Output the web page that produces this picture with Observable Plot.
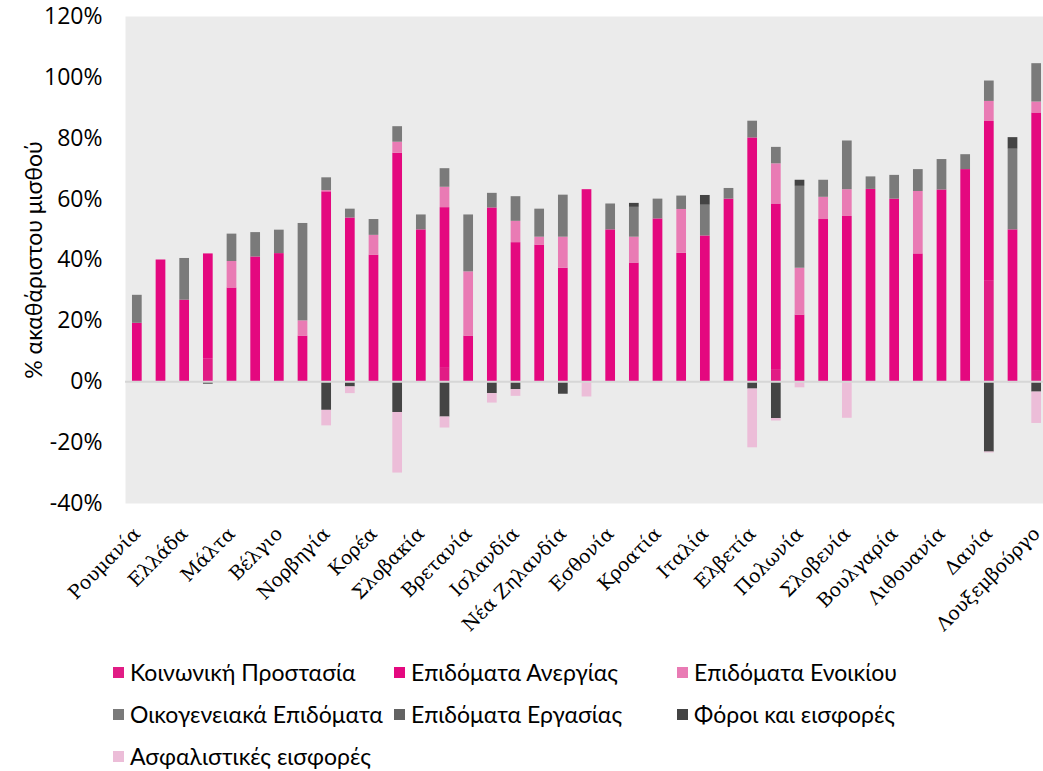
<!DOCTYPE html>
<html><head><meta charset="utf-8">
<script src="https://cdn.jsdelivr.net/npm/d3@7"></script>
<script src="https://cdn.jsdelivr.net/npm/@observablehq/plot@0.6"></script>
<style>
html,body{margin:0;padding:0;background:#fff;overflow:hidden;}
#wrap{position:relative;width:1043px;height:771px;overflow:hidden;}
#chart{position:absolute;left:0;top:0;width:1048px;}
.item{position:absolute;display:flex;align-items:center;height:28px;font-family:Lato,"Noto Sans",sans-serif;font-size:23px;color:#000;white-space:nowrap;}
.sw{width:11px;height:11px;margin-right:6px;flex:none;}
</style></head><body>
<div id="wrap"><div id="chart"></div><div id="legend"></div></div>
<script>
const countries = ["Ρουμανία","Λετονία","Ελλάδα","Κύπρος","Μάλτα","Ουγγαρία","Βέλγιο","Τσεχία","Νορβηγία","Ιαπωνία","Κορέα","Ιρλανδία","Σλοβακία","Ολλανδία","Βρετανία","Σουηδία","Ισλανδία","Αυστραλία","Νέα Ζηλανδία","Ισραήλ","Εσθονία","Φινλανδία","Κροατία","Καναδάς","Ιταλία","Τουρκία","Ελβετία","Γερμανία","Πολωνία","Ισπανία","Σλοβενία","Πορτογαλία","Βουλγαρία","Γαλλία","Λιθουανία","ΗΠΑ","Δανία","Αυστρία","Λουξεμβούργο"];
const tickLabels = ["Ρουμανία","Ελλάδα","Μάλτα","Βέλγιο","Νορβηγία","Κορέα","Σλοβακία","Βρετανία","Ισλανδία","Νέα Ζηλανδία","Εσθονία","Κροατία","Ιταλία","Ελβετία","Πολωνία","Σλοβενία","Βουλγαρία","Λιθουανία","Δανία","Λουξεμβούργο"];
const yTicks = [-40,-20,0,20,40,60,80,100,120];
const seriesNames = ["Κοινωνική Προστασία","Επιδόματα Ανεργίας","Επιδόματα Ενοικίου","Οικογενειακά Επιδόματα","Επιδόματα Εργασίας","Φόροι και εισφορές","Ασφαλιστικές εισφορές"];
const seriesColors = ["#e11c85","#e4087f","#e97bb4","#7a7a7a","#636363","#444444","#ecbdd8"];

const koinonikiProstasia = [0,0,0,7.4,0,0,0,0,0,0,0,0,0,4.4,0,0,0,0,0,0,0,0,0,0,0,0,0,4.0,0,0,0,0,0,0,0,0,33.0,0,3.4];
const anergias = [19.2,40.0,26.8,34.6,30.8,41.0,42.1,15.0,62.4,53.8,41.6,75.1,49.9,52.8,15.0,57.1,45.7,44.9,37.3,63.1,49.9,39.0,53.5,42.2,47.9,60.0,80.1,54.4,21.9,53.3,54.3,63.2,60.0,42.0,63.0,69.7,52.5,49.9,84.9];
const enoikiou = [0,0,0,0,8.7,0,0,5.0,0.4,0,6.5,3.6,0,6.7,21.1,0,7.0,2.6,10.2,0,0,8.5,0,14.4,0,0,0,13.2,15.4,7.3,8.8,0,0,20.5,0,0,6.6,0,3.6];
const oikogeneiaka = [9.2,0,13.7,0,9.0,8.0,7.7,32.0,4.2,2.9,5.2,5.1,4.9,6.1,18.7,4.8,8.1,9.2,13.8,0,8.5,9.8,6.5,4.4,10.1,3.5,5.5,5.4,26.9,5.6,16.0,4.1,7.8,7.2,10.0,4.9,6.7,26.5,12.6];
const ergasias = [0,0,0,0,0,0,0,0,0,0,0,0,0,0,0,0,0,0,0,0,0,0,0,0,0,0,0,0,0,0,0,0,0,0,0,0,0,0,0];
const foroi = [0,0,0,-0.8,0,0,0,0,-9.4,-1.7,0,-10.1,0,-11.6,0,-3.9,-2.6,0,-4.1,0,0,1.3,0,0,3.2,0,-2.4,-12.1,2.0,0,0,0,0,0,0,0,-23.1,3.8,-3.4];
const asfalistikes = [0,-0.4,0,0,0,0,0,0,-5.1,-2.2,0,-19.9,0,-3.6,0,-3.1,-2.2,0,0,-5.0,0,0,0,0,0,0,-19.3,-0.8,-2.0,0,-12.0,0,0,0,0,0,-0.3,-0.5,-10.3];

const seriesValues = [koinonikiProstasia, anergias, enoikiou, oikogeneiaka, ergasias, foroi, asfalistikes];
const data = [];
seriesNames.forEach((s, i) => countries.forEach((c, j) => data.push({country: c, series: s, value: seriesValues[i][j]})));

const chart = Plot.plot({
  width: 1048, height: 640,
  marginLeft: 125, marginRight: 0, marginTop: 16, marginBottom: 137,
  style: {fontFamily: "Lato, sans-serif", fontSize: "23px", color: "#000", background: "transparent", overflow: "visible", maxWidth: "none"},
  x: {domain: countries, paddingInner: 0.59, paddingOuter: 0.295, round: false},
  y: {domain: [-40, 120]},
  color: {domain: seriesNames, range: seriesColors},
  marks: [
    Plot.frame({fill: "#ebebeb", stroke: null}),
    Plot.barY(data, {x: "country", y: "value", fill: "series"}),
    Plot.ruleY([0], {stroke: "#d6d6d6", strokeWidth: 2}),
    Plot.axisY({ticks: yTicks, tickFormat: d => d + "%", tickSize: 0, tickPadding: 23, fontSize: 23, fontFamily: "Open Sans, sans-serif",
      label: null}),
    Plot.axisY({ticks: [], tickSize: 0, fontSize: 23, fontFamily: "Lato, sans-serif",
      label: "% ακαθάριστου μισθού", labelAnchor: "center", labelOffset: 100, labelArrow: "none"}),
    Plot.axisX({ticks: tickLabels, tickRotate: -45, tickSize: 0, tickPadding: 27, fontSize: 19, fontFamily: "DejaVu Serif, serif", label: null})
  ]
});
document.getElementById("chart").appendChild(chart);

const legendPos = [[113,672],[394,672],[677,672],[113,714],[394,714],[677,714],[113,756]];
const legend = document.getElementById("legend");
seriesNames.forEach((s, i) => {
  const it = document.createElement("div");
  it.className = "item";
  it.style.left = legendPos[i][0] + "px";
  it.style.top = (legendPos[i][1] - 14) + "px";
  it.innerHTML = `<div class="sw" style="background:${seriesColors[i]}"></div><span>${s}</span>`;
  legend.appendChild(it);
});
</script>
</body></html>
